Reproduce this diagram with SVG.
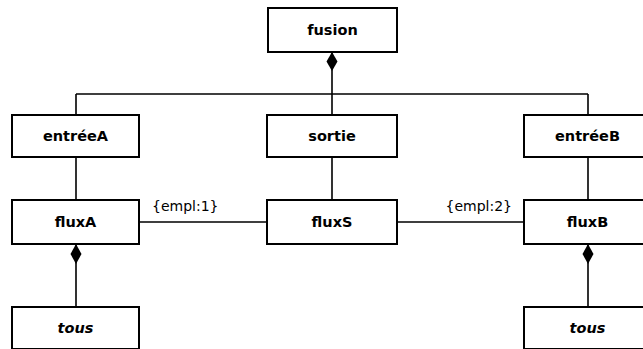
<svg xmlns="http://www.w3.org/2000/svg" width="643" height="349" viewBox="0 0 643 349">
<defs>
<style>
.box{fill:#fff;stroke:#000;stroke-width:2}
.t{font-family:"DejaVu Sans",sans-serif;font-size:14.5px;font-weight:bold;text-anchor:middle}
.i{font-style:italic}
.lbl{font-family:"DejaVu Sans",sans-serif;font-size:14px}
.ln{fill:none;stroke:#000;stroke-width:1.6}
.dia{fill:#000;stroke:none}
</style>
</defs>
<rect width="643" height="349" fill="#fff"/>
<g id="connectors">
<path class="ln" d="M332,52 V94 M76,94 H588 M76,94 V115 M332,94 V115 M588,94 V115"/>
<path class="ln" d="M76,157 V200 M332,157 V200 M588,157 V200"/>
<path class="ln" d="M139,222 H267 M397,222 H524"/>
<path class="ln" d="M76,244 V307 M588,244 V307"/>
<path class="dia" d="M332,52 L337.5,61.5 L332,71 L326.5,61.5 Z"/>
<path class="dia" d="M76,244 L81.5,254 L76,264 L70.5,254 Z"/>
<path class="dia" d="M588,244 L593.5,254 L588,264 L582.5,254 Z"/>
<text class="lbl" x="152" y="211">{empl:1}</text>
<text class="lbl" x="512" y="211" text-anchor="end">{empl:2}</text>
</g>
<g id="fusion"><rect class="box" x="268" y="8" width="129" height="44"/><text class="t" x="332.5" y="35">fusion</text></g>
<g id="entreeA"><rect class="box" x="12" y="115" width="127" height="42"/><text class="t" x="75.5" y="141">entréeA</text></g>
<g id="sortie"><rect class="box" x="267" y="115" width="130" height="42"/><text class="t" x="332" y="141">sortie</text></g>
<g id="entreeB"><rect class="box" x="524" y="115" width="127" height="42"/><text class="t" x="587.5" y="141">entréeB</text></g>
<g id="fluxA"><rect class="box" x="12" y="200" width="127" height="44"/><text class="t" x="75.5" y="227">fluxA</text></g>
<g id="fluxS"><rect class="box" x="267" y="200" width="130" height="44"/><text class="t" x="332" y="227">fluxS</text></g>
<g id="fluxB"><rect class="box" x="524" y="200" width="127" height="44"/><text class="t" x="587.5" y="227">fluxB</text></g>
<g id="tousA"><rect class="box" x="12" y="307" width="127" height="42"/><text class="t i" x="75.5" y="333">tous</text></g>
<g id="tousB"><rect class="box" x="524" y="307" width="127" height="42"/><text class="t i" x="587.5" y="333">tous</text></g>
</svg>
